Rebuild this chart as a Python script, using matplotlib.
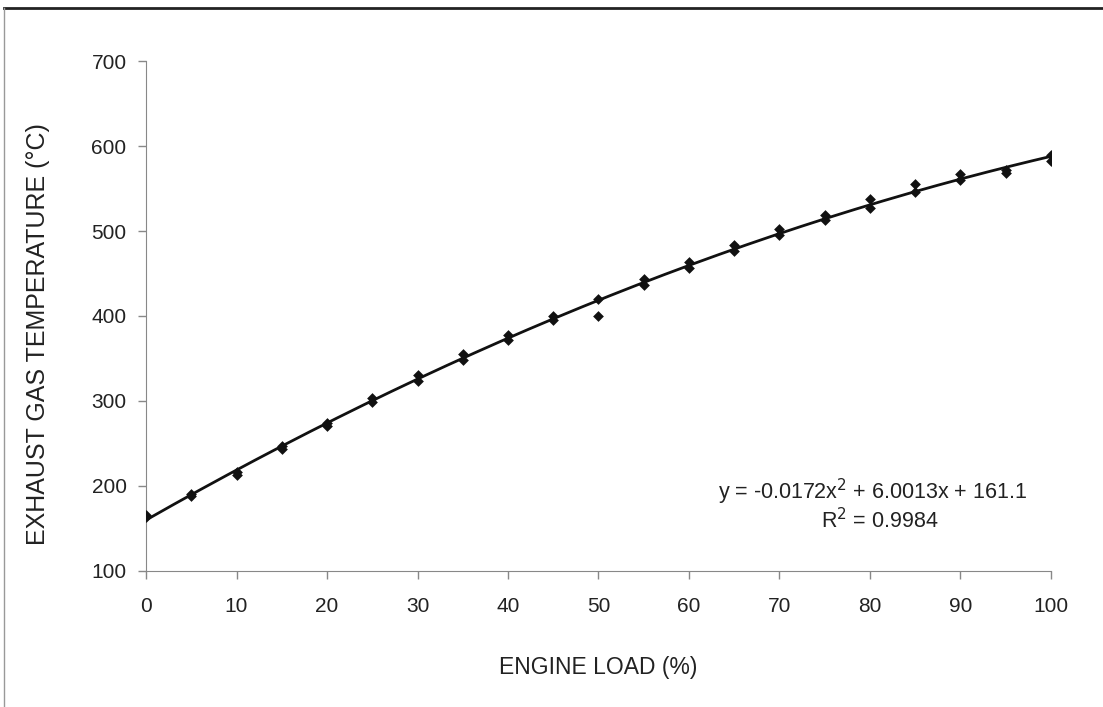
import numpy as np
import matplotlib
matplotlib.use('Agg')
import matplotlib.pyplot as plt
from matplotlib.lines import Line2D

plt.rcParams['font.family'] = ['Liberation Sans', 'DejaVu Sans']

# engine load (%) and two measured exhaust temperatures per load step
load  = [0, 5, 10, 15, 20, 25, 30, 35, 40, 45, 50,
         55, 60, 65, 70, 75, 80, 85, 90, 95, 100]
temp1 = [166, 190, 217, 247, 274, 304, 330, 355, 378, 400, 420,
         443, 463, 483, 502, 519, 538, 555, 567, 572, 589]
temp2 = [164, 188, 213, 244, 271, 299, 323, 348, 372, 395, 400,
         437, 456, 477, 495, 513, 527, 546, 560, 568, 582]

x_ticks = list(range(0, 101, 10))
y_ticks = list(range(100, 701, 100))
eq_text = 'y = -0.0172x$^2$ + 6.0013x + 161.1'
r2_text = 'R$^2$ = 0.9984'

fig = plt.figure(figsize=(11.03, 7.07), dpi=100)
ax = fig.add_axes([0.1324, 0.1924, 0.8204, 0.7213])

xs = np.array(load * 2)
ys = np.array(temp1 + temp2)
ax.scatter(xs, ys, marker='D', s=30, color='#111111', zorder=3, linewidths=0)

# second order trendline fitted to the measurements
coef = np.polyfit(xs, ys, 2)
xf = np.linspace(0, 100, 200)
ax.plot(xf, np.polyval(coef, xf), color='#111111', lw=2, zorder=2)

ax.set_xlim(0, 100)
ax.set_ylim(100, 700)
ax.set_xticks(x_ticks)
ax.set_yticks(y_ticks)
ax.tick_params(labelsize=15, colors='#222222', length=6, width=1)
ax.tick_params(axis='x', pad=13)
ax.tick_params(axis='y', pad=8)
ax.tick_params(axis='both', color='#888888')
for s in ['top', 'right']:
    ax.spines[s].set_visible(False)
for s in ['left', 'bottom']:
    ax.spines[s].set_color('#888888')

ax.set_xlabel('ENGINE LOAD (%)', fontsize=16.5, color='#222222')
ax.set_ylabel('EXHAUST GAS TEMPERATURE (\u00b0C)', fontsize=18,
              color='#222222')
ax.xaxis.set_label_coords(0.5, -0.167)
ax.yaxis.set_label_coords(-0.106, 0.465)

ax.text(80.3, 193, eq_text, fontsize=15.5, ha='center', va='center',
        color='#222222')
ax.text(81.1, 159, r2_text, fontsize=15.5, ha='center', va='center',
        color='#222222')

# outer frame of the scanned figure
fig.add_artist(Line2D([4 / 1103, 1], [1 - 8 / 707, 1 - 8 / 707],
                      transform=fig.transFigure, color='#222222', lw=2))
fig.add_artist(Line2D([4 / 1103, 4 / 1103], [0, 1 - 8 / 707],
                      transform=fig.transFigure, color='#999999', lw=1))

fig.savefig('out.png', dpi=100)
